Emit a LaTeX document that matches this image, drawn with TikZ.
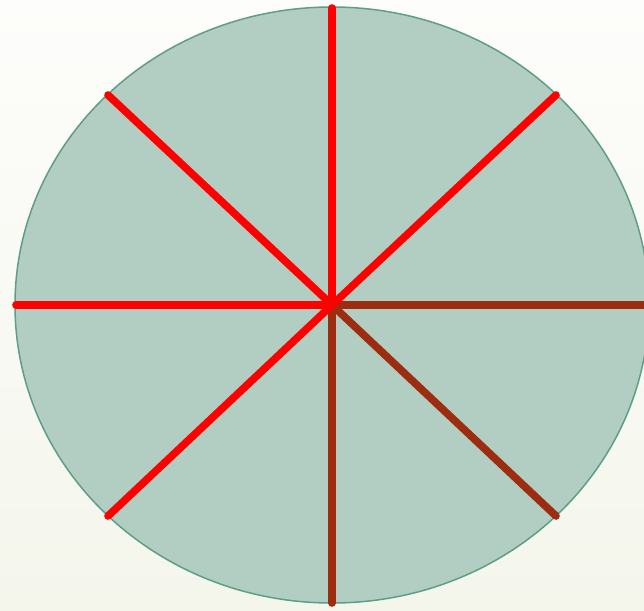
\documentclass[tikz,border=0pt]{standalone}
\begin{document}
\begin{tikzpicture}[x=1pt,y=-1pt,
  spoke/.style={line width=7.6pt,line cap=round},
  redspoke/.style={spoke,draw=spokered},
  brownspoke/.style={spoke,draw=spokebrown}]
\definecolor{spokered}{HTML}{FF0000}
\definecolor{spokebrown}{HTML}{9C2D10}
\definecolor{discfill}{HTML}{B2CEC2}
\definecolor{discedge}{HTML}{5E9E88}
\definecolor{bgtop}{HTML}{FDFDFB}
\definecolor{bgbot}{HTML}{F4F6EC}
\useasboundingbox (0,0) rectangle (644,610);
\shade[top color=bgtop,bottom color=bgbot] (0,0) rectangle (644,610);
\begin{scope}
\clip (0,0) rectangle (644,610);
\coordinate (c) at (332,305);
\filldraw[fill=discfill,draw=discedge,line width=1.5pt] (c) ellipse [x radius=317, y radius=298];
\draw[brownspoke] (c) -- (652,305);
\draw[brownspoke] (c) -- (556,516);
\draw[brownspoke] (c) -- (332,603);
\draw[redspoke] (c) -- (332,8);
\draw[redspoke] (c) -- (16,305);
\draw[redspoke] (c) -- (108,95);
\draw[redspoke] (c) -- (556,95);
\draw[redspoke] (c) -- (108,516);
\end{scope}
\end{tikzpicture}
\end{document}
